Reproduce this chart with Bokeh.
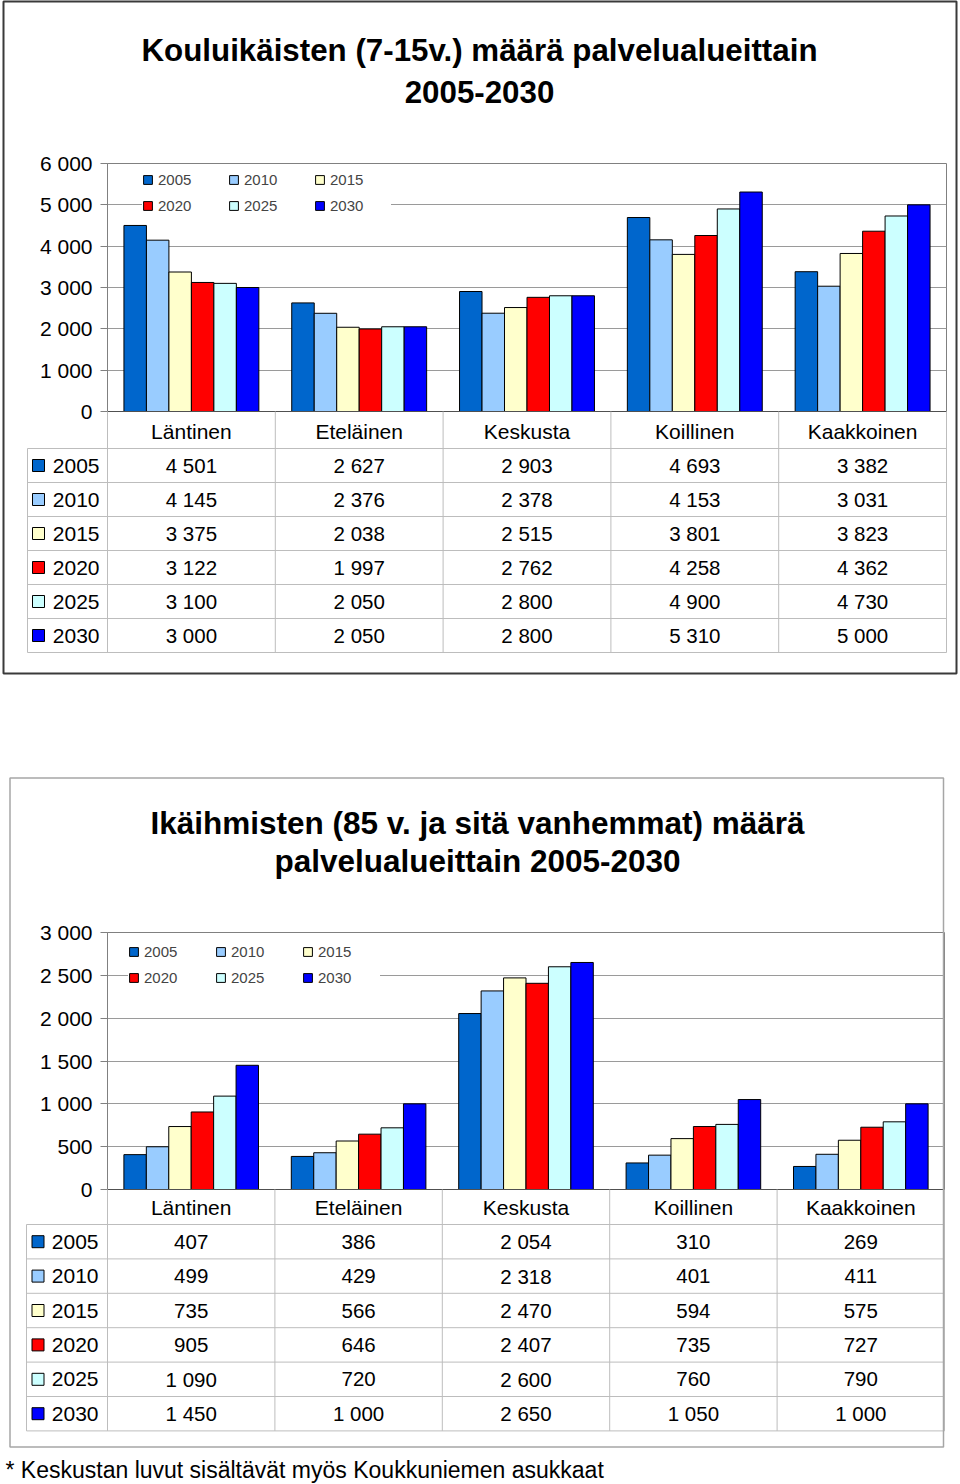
from bokeh.plotting import figure
from bokeh.models import (Range1d, LinearAxis, FixedTicker, ColumnDataSource,
                          Legend, LegendItem, Grid)
from bokeh.transform import dodge
from bokeh.layouts import column
from bokeh.embed import file_html
from bokeh.resources import INLINE
from bokeh.core.properties import value

# ---------------- data ----------------
regions = ["Läntinen", "Eteläinen", "Keskusta", "Koillinen", "Kaakkoinen"]
years = ["2005", "2010", "2015", "2020", "2025", "2030"]
year_colors = ["#0066CC", "#99CCFF", "#FFFFCC", "#FF0000", "#CCFFFF", "#0000FF"]

school_2005 = [4501, 2627, 2903, 4693, 3382]
school_2010 = [4145, 2376, 2378, 4153, 3031]
school_2015 = [3375, 2038, 2515, 3801, 3823]
school_2020 = [3122, 1997, 2762, 4258, 4362]
school_2025 = [3100, 2050, 2800, 4900, 4730]
school_2030 = [3000, 2050, 2800, 5310, 5000]

elderly_2005 = [407, 386, 2054, 310, 269]
elderly_2010 = [499, 429, 2318, 401, 411]
elderly_2015 = [735, 566, 2470, 594, 575]
elderly_2020 = [905, 646, 2407, 735, 727]
elderly_2025 = [1090, 720, 2600, 760, 790]
elderly_2030 = [1450, 1000, 2650, 1050, 1000]

school_title = ["Kouluikäisten (7-15v.) määrä palvelualueittain", "2005-2030"]
elderly_title = ["Ikäihmisten (85 v. ja sitä vanhemmat) määrä", "palvelualueittain 2005-2030"]
school_ticks = [0, 1000, 2000, 3000, 4000, 5000, 6000]
elderly_ticks = [0, 500, 1000, 1500, 2000, 2500, 3000]
footnote = "* Keskustan luvut sisältävät myös Koukkuniemen asukkaat"

FONT = "Liberation Sans"
W = 958
BW = 0.134


def fmt(v):
    return f"{v:,}".replace(",", " ")


def make_chart(series, ticks, title, lay, note=None):
    fl, fr, ft, fb = lay["frame"]
    ctop, H = lay["canvas_top"], lay["height"]
    p = figure(frame_width=fr - fl, frame_height=fb - ft,
               min_border_left=fl, min_border_right=W - fr,
               min_border_top=ft - ctop, min_border_bottom=ctop + H - fb,
               x_range=Range1d(0, len(regions)), y_range=Range1d(ticks[0], ticks[-1]),
               x_axis_type=None, y_axis_type=None,
               output_backend="svg", toolbar_location=None)
    p.background_fill_color = "white"
    p.border_fill_color = "white"
    p.outline_line_color = "#808080"
    p.outline_line_width = 1

    ttop, rh = lay["table_top"], lay["row_h"]
    t_bottom = (fb - ttop) / rh
    t_top = (ft - ttop) / rh
    p.extra_x_ranges = {"px": Range1d(fl, fr)}
    p.extra_y_ranges = {"px": Range1d(fb, ft), "tbl": Range1d(t_bottom, t_top)}

    # y axis
    yaxis = LinearAxis(ticker=FixedTicker(ticks=ticks, minor_ticks=[]),
                       major_label_overrides={t: fmt(t) for t in ticks},
                       axis_line_color="#808080", major_tick_line_color="#808080",
                       major_tick_out=7, major_tick_in=0, minor_tick_line_color=None,
                       major_label_standoff=8,
                       major_label_text_font=FONT, major_label_text_font_size="21px",
                       major_label_text_color="black")
    p.add_layout(yaxis, "left")
    p.add_layout(Grid(dimension=1, ticker=FixedTicker(ticks=ticks, minor_ticks=[]),
                      grid_line_color="#9a9a9a", grid_line_width=1))

    # x axis (category labels)
    centers = [i + 0.5 for i in range(len(regions))]
    xaxis = LinearAxis(ticker=FixedTicker(ticks=centers, minor_ticks=[]),
                       major_label_overrides={c: r for c, r in zip(centers, regions)},
                       axis_line_color="#505050", major_tick_line_color=None,
                       minor_tick_line_color=None, major_tick_out=0, major_tick_in=0,
                       major_label_standoff=lay["xstandoff"],
                       major_label_text_font=FONT, major_label_text_font_size="21px",
                       major_label_text_color="black")
    p.add_layout(xaxis, "below")

    # bars
    src = ColumnDataSource(dict(x=centers, **{y: s for y, s in zip(years, series)}))
    items = []
    for j, (yr, col) in enumerate(zip(years, year_colors)):
        r = p.vbar(x=dodge("x", (j - 2.5) * BW, range=p.x_range), top=yr, bottom=0,
                   width=BW, source=src, fill_color=col, line_color="black", line_width=1)
        items.append(LegendItem(label=yr, renderers=[r]))

    lx, ly, pitch = lay["legend"]
    pad = 3
    item_h, sp = 17, 9
    leg_h = 2 * item_h + sp
    legend = Legend(items=items, orientation="horizontal", ncols=3,
                    location=(lx - pad, (fb - ft) - ly - leg_h - pad),
                    spacing=sp, padding=pad, margin=0,
                    glyph_width=11, glyph_height=11, label_standoff=5,
                    label_width=int(round(pitch - 11 - 5 - sp)), label_height=item_h,
                    label_text_font=FONT, label_text_font_size="15px",
                    border_line_color=None, background_fill_color="white",
                    background_fill_alpha=1.0)
    p.add_layout(legend)

    # table grid
    nrow = len(years)
    hl = ColumnDataSource(dict(x0=[lay["table_left"]] * (nrow + 1), x1=[fr] * (nrow + 1),
                               y=list(range(nrow + 1))))
    p.segment(x0="x0", y0="y", x1="x1", y1="y", source=hl, line_color="#bdbdbd",
              line_width=1, level="overlay", x_range_name="px", y_range_name="tbl")
    vl = ColumnDataSource(dict(x=list(range(len(regions) + 1)),
                               y0=[t_bottom] * (len(regions) + 1),
                               y1=[nrow] * (len(regions) + 1)))
    p.segment(x0="x", y0="y0", x1="x", y1="y1", source=vl, line_color="#bdbdbd",
              line_width=1, level="overlay", y_range_name="tbl")
    p.segment(x0=[lay["table_left"]], y0=[0], x1=[lay["table_left"]], y1=[nrow],
              line_color="#bdbdbd", line_width=1, level="overlay",
              x_range_name="px", y_range_name="tbl")

    # table values
    tx, ty, tt = [], [], []
    for j, s in enumerate(series):
        for i, v in enumerate(s):
            tx.append(i + 0.5)
            ty.append(j + 0.5)
            tt.append(fmt(v))
    p.text(x="x", y="y", text="t", source=ColumnDataSource(dict(x=tx, y=ty, t=tt)),
           text_font=value(FONT), text_font_size=value("20.5px"), text_color="black",
           text_align="center", text_baseline="middle", level="overlay",
           y_range_name="tbl")

    # row headers: color key + year
    kx, half = lay["key_x"], 6
    for j, col in enumerate(year_colors):
        cy = ttop + rh * (j + 0.5)
        p.patch(x=[kx - half, kx + half, kx + half, kx - half],
                y=[cy - half, cy - half, cy + half, cy + half],
                fill_color=col, line_color="black", line_width=1, level="overlay",
                x_range_name="px", y_range_name="px")
    rows = [j + 0.5 for j in range(nrow)]
    p.text(x=[lay["year_right"]] * nrow, y=rows, text=years,
           text_font=value(FONT), text_font_size=value("21px"), text_color="black",
           text_align="right", text_baseline="middle", level="overlay",
           x_range_name="px", y_range_name="tbl")

    # title
    tcx = lay["title_x"]
    p.text(x=[tcx, tcx], y=list(lay["title_mid"]), text=title,
           text_font=value(FONT), text_font_size=value(lay["title_size"]),
           text_font_style="bold", text_color="black", text_align="center",
           text_baseline="middle", level="overlay",
           x_range_name="px", y_range_name="px")

    # chart box
    bl, br, bt, bb = lay["box"]
    p.quad(left=[bl], right=[br], top=[bt], bottom=[bb], fill_color=None,
           line_color=lay["box_color"], line_width=lay["box_w"], level="overlay",
           x_range_name="px", y_range_name="px")

    if note:
        p.text(x=[5], y=[1469.5], text=[note], text_font=value(FONT),
               text_font_size=value("23px"), text_color="black", text_align="left",
               text_baseline="middle", level="overlay",
               x_range_name="px", y_range_name="px")
    return p


lay1 = dict(canvas_top=0, height=710, frame=(107, 946, 163, 411), table_top=448,
            row_h=34, table_left=27, key_x=38, year_right=99, legend=(38, 4.5, 86),
            title_x=479, title_mid=(50, 91.5), title_size="31.3px",
            box=(3, 956, 1, 673), box_color="#3a3a3a", box_w=2, xstandoff=8)
lay2 = dict(canvas_top=710, height=774, frame=(107, 944, 932, 1189), table_top=1224,
            row_h=34.4, table_left=26, key_x=37.5, year_right=98, legend=(24, 8.2, 87),
            title_x=477, title_mid=(822, 860.5), title_size="31.5px",
            box=(9.5, 943, 777.5, 1446.5), box_color="#a6a6a6", box_w=1.5, xstandoff=6)

p1 = make_chart([school_2005, school_2010, school_2015, school_2020, school_2025, school_2030],
                school_ticks, school_title, lay1)
p2 = make_chart([elderly_2005, elderly_2010, elderly_2015, elderly_2020, elderly_2025, elderly_2030],
                elderly_ticks, elderly_title, lay2, note=footnote)

root = column(p1, p2, spacing=0)
open("out.html", "w").write(file_html(root, INLINE))
